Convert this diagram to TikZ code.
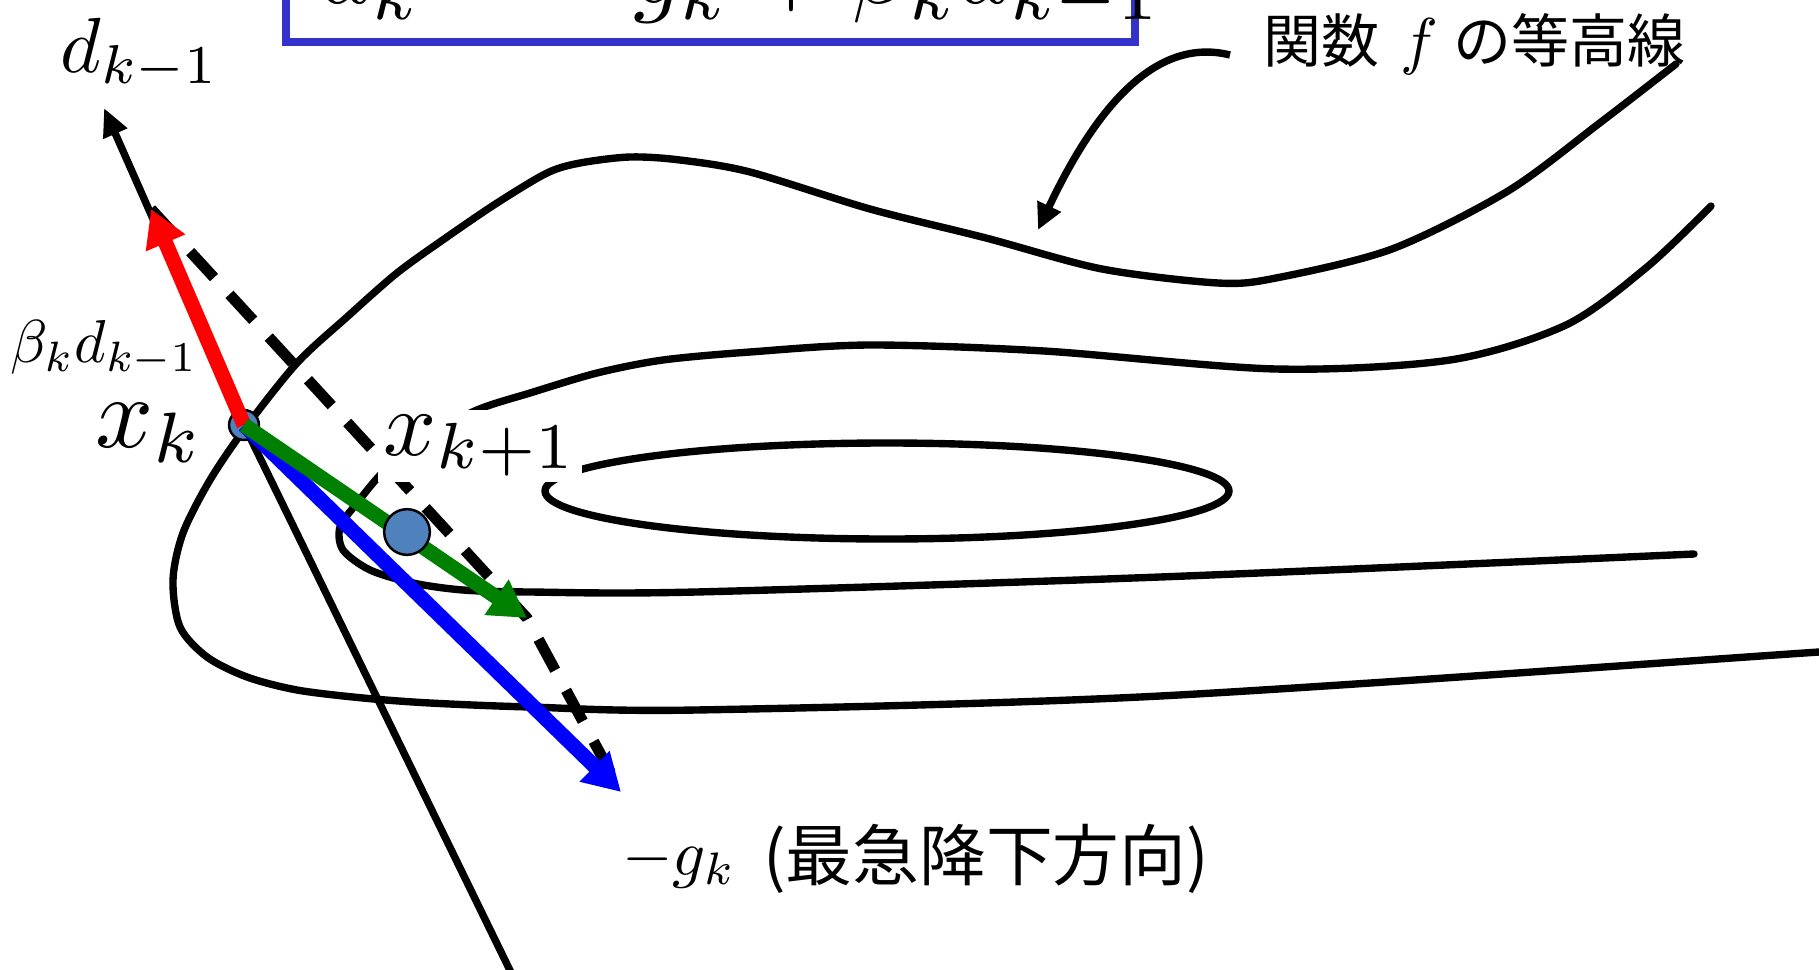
\documentclass[tikz,border=0pt]{standalone}
\usepackage{graphicx}
\usepackage{fontspec}
\newfontfamily\cjk{Noto Sans CJK JP}
\usetikzlibrary{arrows.meta}
\definecolor{dotblue}{RGB}{79,129,189}
\definecolor{boxblue}{RGB}{51,51,204}
\definecolor{arrred}{RGB}{255,0,0}
\definecolor{arrblue}{RGB}{0,0,255}
\definecolor{arrgreen}{RGB}{0,128,0}
\newcommand{\sizedmath}[2]{\scalebox{#1}{\fontsize{10pt}{12pt}\selectfont$#2$}}
\begin{document}
\begin{tikzpicture}[x=0.02cm,y=-0.02cm,
  contour/.style={line width=4.2pt, line cap=round},
  blackline/.style={line width=4.2pt},
  dashline/.style={line width=6.2pt, dash pattern=on 20pt off 13pt},
  vecarrow/.style={line width=8.5pt, -{Triangle[length=21pt,width=23pt]}},
  callout/.style={line width=4.2pt, -{Triangle[length=15pt,width=14pt]}},
  formbox/.style={draw=boxblue, line width=4.6pt},
  dot/.style={circle, fill=dotblue, draw=black, line width=1.4pt, inner sep=0pt, minimum size=#1},
  lbl/.style={anchor=base west, inner sep=0pt}]
\useasboundingbox (0,0) rectangle (1819,970);
\fill[white] (0,0) rectangle (1819,970);
\clip (0,0) rectangle (1819,970);

% formula box (cut by the top edge)
\draw[formbox] (286,-40) rectangle (1135,42);
\node[lbl] (formula) at (320,4) {\sizedmath{5.7}{d_k = -g_k + \beta_k d_{k-1}}};

% contours
\draw[contour] plot[smooth, tension=0.5] coordinates {(1676,64) (1601,122) (1508,191) (1392,249) (1276,278) (1218,283) (1102,269) (986,238) (870,209) (750,172) (680,160) (630,157) (580,163) (547,173) (497,203) (447,237) (397,273) (347,317) (297,363) (246,427) (210,480) (183,533) (173,580) (180,627) (207,657) (247,677) (297,690) (363,698) (430,703) (530,707) (696,710) (1160,696) (1819,652) (1850,650)};
\draw[contour] plot[smooth, tension=0.5] coordinates {(1711,206) (1647,267) (1566,325) (1450,360) (1276,369) (1044,351) (870,345) (750,352) (663,360) (597,373) (530,393) (477,410) (420,440) (383,472) (357,503) (340,527) (343,550) (370,570) (413,583) (463,590) (530,592) (696,592) (1160,577) (1694,554)};
\draw[contour] (887,491) ellipse [x radius=342, y radius=48];

% points
\coordinate (xk) at (244,425);
\coordinate (dtip) at (104,108);
\coordinate (rtip) at (151,209);
\coordinate (gtip) at (527,618);
\coordinate (btip) at (621,792);
\coordinate (lineend) at (522,995);
\coordinate (xkone) at (407,532);

% black lines
\draw[blackline, -{Triangle[length=16pt,width=14pt]}] (xk) -- (dtip);
\draw[blackline] (xk) -- (lineend);
\draw[dashline] (rtip) -- (gtip) -- (btip);

\node[dot=17pt] (xkdot) at (xk) {};
\draw[vecarrow, draw=arrred, fill=arrred] (xk) -- (rtip);
\draw[vecarrow, draw=arrblue, fill=arrblue] (xk) -- (btip);
\draw[vecarrow, draw=arrgreen, fill=arrgreen] (xk) -- (gtip);
\node[dot=26pt] (xkonedot) at (xkone) {};

% labels
\node[lbl] (ldk) at (60,72) {\sizedmath{4.45}{d_{k-1}}};
\node[lbl] (lbeta) at (10,362) {\sizedmath{3.45}{\beta_k d_{k-1}}};
\node[lbl] (lxk) at (95,447) {\sizedmath{5.8}{x_k}};
\node[anchor=base west, fill=white, inner sep=3pt] (lxkone) at (378,455) {\sizedmath{5.3}{x_{k+1}}};
\node[lbl] (lg) at (622,875) {\sizedmath{3.7}{-g_k}};
\node[lbl] (lsteep) at (763,880) {\fontsize{38pt}{40pt}\selectfont\cjk (最急降下方向)};
\node[lbl] (lcont) at (1263,62) {\fontsize{33pt}{36pt}\selectfont{\cjk 関数}\hspace{12pt}\sizedmath{3.6}{f}\hspace{9pt}{\cjk の等高線}};

\coordinate (calstart) at (1230,55);
\coordinate (caltip) at (1038,230);
\draw[callout] (calstart) .. controls (1150,35) and (1090,120) .. (caltip);
\end{tikzpicture}
\end{document}
